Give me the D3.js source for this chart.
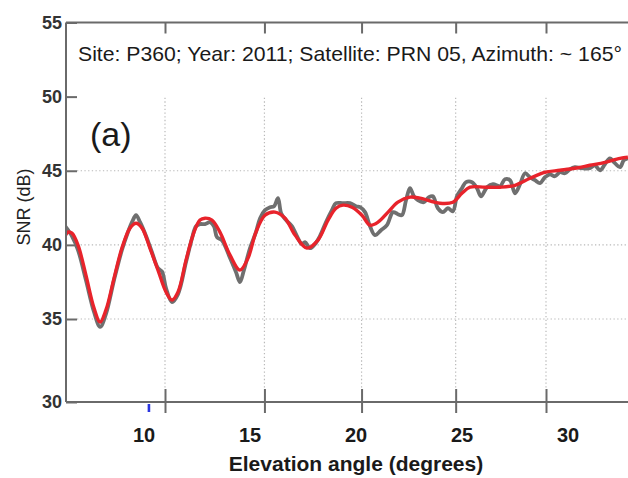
<!DOCTYPE html>
<html>
<head>
<meta charset="utf-8">
<script src="https://cdn.jsdelivr.net/npm/d3@7"></script>
<style>
  body { margin: 0; background: #fff; }
  svg { display: block; }
</style>
</head>
<body>
<svg id="chart" width="628" height="478"></svg>
<script>
// Raw SNR samples (grey) and the fitted model (red), elevation in degrees
const rawElevation = [5.05,5.20,5.39,5.69,6.08,6.48,6.78,7.07,7.47,7.86,
  8.16,8.36,8.56,8.76,9.06,9.35,9.65,9.85,10.05,10.35,
  10.65,11.05,11.35,11.55,11.75,12.00,12.25,12.45,12.60,12.85,
  13.26,13.56,13.76,13.96,14.27,14.57,14.78,15.03,15.29,15.49,
  15.69,15.85,16.10,16.40,16.66,16.91,17.07,17.33,17.58,17.84,
  18.15,18.46,18.67,19.03,19.40,19.71,19.92,20.18,20.44,20.70,
  21.02,21.33,21.65,21.91,22.12,22.34,22.55,22.76,22.97,23.29,
  23.56,23.77,24.04,24.31,24.58,24.85,25.07,25.34,25.56,25.89,
  26.16,26.38,26.71,27.04,27.43,27.70,27.98,28.26,28.54,28.82,
  29.10,29.38,29.66,29.94,30.22,30.51,30.79,31.08,31.36,31.65,
  32.06,32.52,32.81,33.11,33.40,33.69,33.99,34.29,34.52,34.76];
const rawSnr = [41.26,40.99,40.59,39.65,37.63,35.47,34.52,35.34,37.63,39.65,
  40.86,41.53,42.00,41.53,40.59,39.51,38.43,38.20,37.09,36.14,
  36.68,38.84,40.45,41.26,41.40,41.40,41.53,41.26,40.52,40.32,
  39.11,38.16,37.49,38.30,39.78,40.86,41.80,42.34,42.54,42.61,
  43.15,42.14,41.67,41.26,40.59,40.05,40.19,39.78,40.05,40.59,
  41.53,42.34,42.81,42.81,42.81,42.61,42.54,42.21,41.26,40.66,
  40.99,41.33,42.21,42.07,42.00,43.01,43.82,43.28,43.01,42.88,
  43.22,43.28,42.47,42.21,42.47,42.27,43.28,43.82,44.23,44.23,
  43.82,43.28,43.89,44.09,43.96,44.43,44.36,43.48,44.09,44.83,
  44.56,44.36,44.16,44.56,44.76,44.63,44.90,44.83,45.10,45.24,
  45.17,45.17,45.37,45.03,45.44,45.84,45.51,45.24,45.71,45.84];

const fitElevation = [5.05,5.20,5.39,5.69,6.08,6.48,6.78,7.07,7.47,7.86,
  8.26,8.56,8.86,9.25,9.65,10.05,10.35,10.65,11.05,11.45,
  11.75,12.00,12.35,12.75,13.26,13.76,14.17,14.57,15.03,15.54,
  16.05,16.56,17.17,17.74,18.26,18.67,19.03,19.50,20.02,20.44,
  20.86,21.39,21.91,22.55,23.08,24.15,24.85,25.34,25.78,26.60,
  27.43,28.26,29.10,29.94,30.79,31.65,32.52,33.40,34.29,34.76];
const fitSnr = [40.59,40.86,40.79,39.98,37.96,35.74,34.82,35.61,37.76,39.78,
  41.13,41.46,41.13,39.78,38.30,36.82,36.28,36.82,38.97,40.86,
  41.67,41.80,41.67,40.86,39.31,38.30,39.11,40.86,42.00,42.21,
  41.80,40.66,39.78,40.32,41.67,42.47,42.68,42.54,42.00,41.33,
  41.53,42.21,42.88,43.22,43.15,42.81,42.88,43.48,43.89,43.89,
  43.89,44.02,44.49,44.90,45.03,45.17,45.37,45.57,45.84,45.91];

const xTickValues = [10, 15, 20, 25, 30];
const xTickLabels = ["10", "15", "20", "25", "30"];
const yTickValues = [30, 35, 40, 45, 50, 55];
const yTickLabels = ["30", "35", "40", "45", "50", "55"];
const yGridValues = [35, 40, 45];
const markerElevation = [9.2];

const annotation = "Site: P360; Year: 2011; Satellite: PRN 05, Azimuth: ~ 165\u00B0";
const panelTag = "(a)";
const xTitle = "Elevation angle (degrees)";
const yTitle = "SNR (dB)";

// Layout
const W = 628, H = 478;
const plotLeft = 66, plotTop = 22.5, plotBottom = 402;

const svg = d3.select("#chart");
const sinDeg = d => Math.sin(d * Math.PI / 180);

// Horizontal axis is linear in sin(elevation)
const xs = d3.scaleLinear().domain([sinDeg(10), sinDeg(30)]).range([165, 546]);
const x = e => xs(sinDeg(e));
// Labels sit on an evenly spaced degree scale
const xLabel = d3.scaleLinear().domain([10, 30]).range([143.5, 567.5]);
const y = d3.scaleLinear().domain([30, 35, 55]).range([plotBottom, 319, plotTop]);

const frameColor = "#6a6a6a";
const gridColor = "#b9b9b9";

// Grid (dotted), kept below the annotation band
const grid = svg.append("g");
grid.selectAll("line.h").data(yGridValues).join("line")
  .attr("x1", plotLeft + 11).attr("x2", W)
  .attr("y1", d => y(d)).attr("y2", d => y(d))
  .attr("stroke", gridColor).attr("stroke-width", 1.2)
  .attr("stroke-dasharray", "1.3,2.4");
grid.selectAll("line.v").data(xTickValues).join("line")
  .attr("x1", d => x(d)).attr("x2", d => x(d))
  .attr("y1", y(50) + 1).attr("y2", plotBottom - 12)
  .attr("stroke", gridColor).attr("stroke-width", 1.2)
  .attr("stroke-dasharray", "1.3,2.4");

// Frame
const frame = svg.append("g").attr("stroke", frameColor).attr("stroke-width", 2);
frame.append("line").attr("x1", plotLeft).attr("x2", W).attr("y1", plotTop).attr("y2", plotTop);
frame.append("line").attr("x1", plotLeft).attr("x2", plotLeft).attr("y1", plotTop).attr("y2", plotBottom);
frame.append("line").attr("x1", plotLeft).attr("x2", W).attr("y1", plotBottom).attr("y2", plotBottom);

// Bottom ticks crossing the axis line
const bottomTicks = svg.append("g").attr("transform", `translate(0,${plotBottom})`)
  .call(d3.axisBottom(xs).tickValues(xTickValues.map(sinDeg)).tickFormat("").tickSizeOuter(0));
bottomTicks.select(".domain").remove();
bottomTicks.selectAll(".tick line").attr("y1", -13).attr("y2", 11)
  .attr("stroke", frameColor).attr("stroke-width", 2);

// Top ticks pointing inward
const topTicks = svg.append("g").attr("transform", `translate(0,${plotTop})`)
  .call(d3.axisTop(xs).tickValues(xTickValues.map(sinDeg)).tickFormat("").tickSize(-11).tickSizeOuter(0));
topTicks.select(".domain").remove();
topTicks.selectAll(".tick line").attr("stroke", frameColor).attr("stroke-width", 2);

// Bottom labels
const bottomLabels = svg.append("g").attr("transform", `translate(0,${plotBottom})`)
  .call(d3.axisBottom(xLabel).tickValues(xTickValues)
    .tickFormat((d, i) => xTickLabels[i]).tickSize(0).tickPadding(26));
bottomLabels.select(".domain").remove();
bottomLabels.selectAll("text")
  .attr("font-family", "Liberation Sans, Arial, sans-serif")
  .attr("font-size", 20).attr("font-weight", "bold").attr("fill", "#1a1a1a");

// Left axis: inward ticks and labels
const leftAxis = svg.append("g").attr("transform", `translate(${plotLeft},0)`)
  .call(d3.axisLeft(y).tickValues(yTickValues)
    .tickFormat((d, i) => yTickLabels[i]).tickSize(-11).tickPadding(4).tickSizeOuter(0));
leftAxis.select(".domain").remove();
leftAxis.selectAll(".tick line").attr("stroke", frameColor).attr("stroke-width", 2);
leftAxis.selectAll("text")
  .attr("font-family", "Liberation Sans, Arial, sans-serif")
  .attr("font-size", 18).attr("font-weight", "bold").attr("fill", "#333");

// Clip curves to the plotting area
svg.append("clipPath").attr("id", "plotClip")
  .append("rect").attr("x", plotLeft + 1).attr("y", plotTop)
  .attr("width", W - plotLeft).attr("height", plotBottom - plotTop);

const line = d3.line().x(d => x(d[0])).y(d => y(d[1])).curve(d3.curveCatmullRom.alpha(0.5));
const rawPts = rawElevation.map((e, i) => [e, rawSnr[i]]);
const fitPts = fitElevation.map((e, i) => [e, fitSnr[i]]);

const curves = svg.append("g").attr("clip-path", "url(#plotClip)");
curves.append("path").datum(rawPts).attr("d", line)
  .attr("fill", "none").attr("stroke", "#6f6f6f").attr("stroke-width", 3.8)
  .attr("stroke-linejoin", "round");
curves.append("path").datum(fitPts).attr("d", line)
  .attr("fill", "none").attr("stroke", "#e8232b").attr("stroke-width", 3.4)
  .attr("stroke-linejoin", "round");

// Blue marker below the axis
svg.selectAll("line.marker").data(markerElevation).join("line")
  .attr("class", "marker")
  .attr("x1", d => x(d)).attr("x2", d => x(d))
  .attr("y1", plotBottom + 2).attr("y2", plotBottom + 10)
  .attr("stroke", "#2a35e0").attr("stroke-width", 2.6);

// Annotation and panel tag
svg.append("text").text(annotation)
  .attr("x", 78).attr("y", 61)
  .attr("font-family", "Liberation Sans, Arial, sans-serif").attr("font-size", 21)
  .attr("fill", "#1a1a1a")
  .attr("textLength", 544).attr("lengthAdjust", "spacingAndGlyphs");

svg.append("text").text(panelTag)
  .attr("x", 90).attr("y", 146)
  .attr("font-family", "Liberation Sans, Arial, sans-serif").attr("font-size", 34)
  .attr("fill", "#1a1a1a");

// Axis titles
svg.append("text").text(xTitle)
  .attr("x", 356).attr("y", 471).attr("text-anchor", "middle")
  .attr("font-family", "Liberation Sans, Arial, sans-serif").attr("font-size", 21)
  .attr("font-weight", "bold").attr("fill", "#1a1a1a");

svg.append("text").text(yTitle)
  .attr("transform", "translate(30,207) rotate(-90)").attr("text-anchor", "middle")
  .attr("font-family", "Liberation Sans, Arial, sans-serif").attr("font-size", 18)
  .attr("fill", "#222");
</script>
</body>
</html>
